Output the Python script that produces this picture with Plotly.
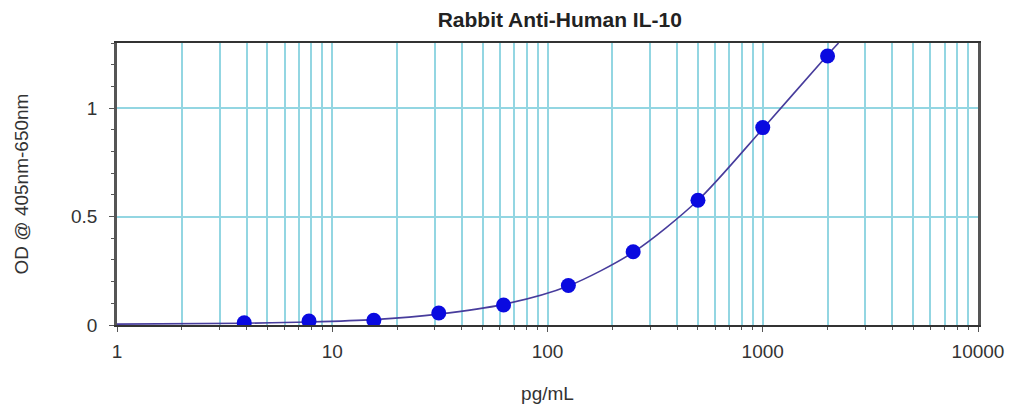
import plotly.graph_objects as go

# Standard points (pg/mL, OD)
conc = [3.9, 7.8, 15.6, 31.25, 62.5, 125, 250, 500, 1000, 2000]
od = [0.01, 0.018, 0.022, 0.055, 0.092, 0.182, 0.338, 0.575, 0.91, 1.24]

# Fitted curve (ends included)
fit_x = [1, 3.9, 7.8, 15.6, 31.25, 62.5, 125, 250, 500, 1000, 2000, 2250]
fit_y = [0.004, 0.008, 0.014, 0.025, 0.05, 0.095, 0.18, 0.335, 0.575, 0.905, 1.245, 1.3]

x_ticks = [1, 10, 100, 1000, 10000]
x_tick_text = ["1", "10", "100", "1000", "10000"]
y_ticks = [0, 0.5, 1]
y_tick_text = ["0", "0.5", "1"]

fig = go.Figure()
fig.add_trace(go.Scatter(
    x=fit_x, y=fit_y, mode="lines",
    line=dict(color="#473c9c", width=1.6, shape="spline", smoothing=0.8),
    hoverinfo="skip", showlegend=False,
))
fig.add_trace(go.Scatter(
    x=conc, y=od, mode="markers",
    marker=dict(color="#0a0ae0", size=15, line=dict(width=0)),
    showlegend=False,
))

grid_c = "#93d6e2"
fig.update_layout(
    width=1005, height=402,
    margin=dict(l=109, r=35, t=35, b=85, autoexpand=False),
    paper_bgcolor="white", plot_bgcolor="white",
    font=dict(family="Liberation Sans, Arial, sans-serif", color="#333333", size=19),
    title=dict(text="<b>Rabbit Anti-Human IL-10</b>", x=0.549, xanchor="center",
               y=0.972, yanchor="middle", font=dict(size=21, color="#222222")),
    xaxis=dict(
        type="log", range=[0, 4], automargin=False,
        tickvals=x_ticks, ticktext=x_tick_text,
        ticks="outside", ticklen=5, tickcolor="#555", ticklabelstandoff=3,
        tickfont=dict(size=19, color="#333"),
        showgrid=True, gridcolor=grid_c, gridwidth=1.5,
        minor=dict(dtick="D1", showgrid=True, gridcolor=grid_c, gridwidth=1.5,
                   ticks="outside", ticklen=3, tickcolor="#555"),
        showline=True, linecolor="#333", linewidth=2, mirror=True,
        title=dict(text="pg/mL", font=dict(size=19, color="#333"), standoff=26),
        zeroline=False,
    ),
    yaxis=dict(
        range=[0, 1.3], automargin=False,
        tickvals=y_ticks, ticktext=y_tick_text,
        ticks="outside", ticklen=5, tickcolor="#555", ticklabelstandoff=8,
        tickfont=dict(size=19, color="#333"),
        showgrid=True, gridcolor=grid_c, gridwidth=1.5,
        minor=dict(dtick=0.1, ticks="outside", ticklen=3, tickcolor="#555", showgrid=False),
        showline=True, linecolor="#555", linewidth=2.5, mirror=True,
        title=dict(text="OD @ 405nm-650nm", font=dict(size=19, color="#333"), standoff=38),
        zeroline=False,
    ),
)

fig.write_html("out.html")
